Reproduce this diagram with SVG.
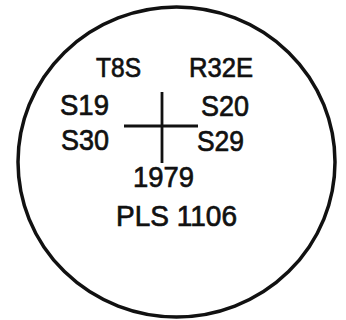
<svg xmlns="http://www.w3.org/2000/svg" width="346" height="320" viewBox="0 0 346 320">
<style>
.t{font-family:"Liberation Sans",Arial,sans-serif;fill:#111;stroke:#111;stroke-width:0.7;}
.s{font-size:27px;}
.m{font-size:29px;}
.l{font-size:30px;}
.ln{stroke:#111;stroke-width:2.8;fill:none;}
</style>
<rect width="346" height="320" fill="#fff"/>
<g id="outline">
<ellipse cx="176.5" cy="162" rx="158.5" ry="155" fill="none" stroke="#111" stroke-width="3.5"/>
</g>
<g id="connectors">
<line class="ln" x1="162" y1="92" x2="162" y2="163"/>
<line class="ln" x1="124" y1="126" x2="198" y2="126"/>
</g>
<g id="t8s"><text class="t s" x="96" y="77" textLength="45" lengthAdjust="spacingAndGlyphs">T8S</text></g>
<g id="r32e"><text class="t s" x="189" y="77" textLength="64" lengthAdjust="spacingAndGlyphs">R32E</text></g>
<g id="s19"><text class="t m" x="60" y="115" textLength="49" lengthAdjust="spacingAndGlyphs">S19</text></g>
<g id="s20"><text class="t m" x="201" y="116" textLength="48" lengthAdjust="spacingAndGlyphs">S20</text></g>
<g id="s30"><text class="t m" x="61" y="150" textLength="48" lengthAdjust="spacingAndGlyphs">S30</text></g>
<g id="s29"><text class="t m" x="197" y="151" textLength="47" lengthAdjust="spacingAndGlyphs">S29</text></g>
<g id="year"><text class="t l" x="133" y="187" textLength="61" lengthAdjust="spacingAndGlyphs">1979</text></g>
<g id="pls"><text class="t m" x="116" y="226" textLength="121" lengthAdjust="spacingAndGlyphs">PLS 1106</text></g>
</svg>
